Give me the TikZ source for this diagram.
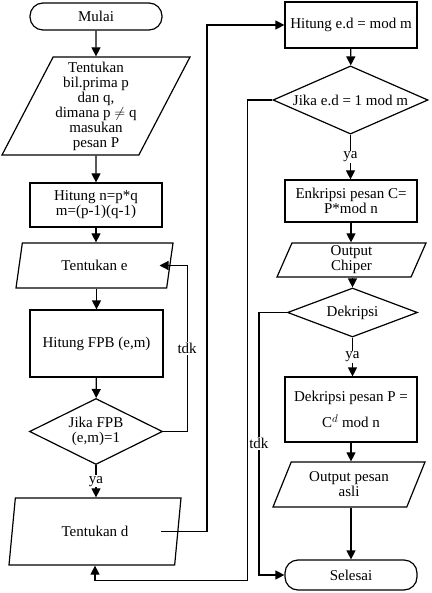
\documentclass[tikz,border=0pt]{standalone}
\usepackage{fontspec}
\setmainfont{Liberation Serif}
\usetikzlibrary{shapes.geometric,arrows.meta,calc}

\begin{document}
\begin{tikzpicture}[x=1pt,y=-1pt,
    every node/.style={font=\fontsize{15}{15}\selectfont, align=center},
    arr/.style={line width=1.2pt, -{Triangle[length=9pt,width=9pt]}},
    terminal/.style={draw, line width=1.2pt, rounded corners=13pt,
        minimum width=132pt, inner sep=0pt},
    proses/.style={draw, line width=1.2pt, rectangle,
        minimum width=132pt, inner sep=0pt},
    io/.style={draw, line width=1.2pt, trapezium, trapezium left angle=60,
        trapezium right angle=120, trapezium stretches body, inner sep=0pt},
    keputusan/.style={draw, line width=1.2pt, diamond, aspect=2, inner sep=0pt},
    lbl/.style={fill=white, inner sep=1pt}]
    \useasboundingbox (0,0) rectangle (431,593);

    \node[terminal, minimum height=27pt] (mulai) at (96,16.5) {Mulai};
    \node[io, minimum width=188pt, minimum height=98pt] (input) at (96,106)
        {Tentukan\\bil.prima p\\dan q,\\dimana p $\neq$ q\\masukan\\pesan P};
    \node[proses, minimum height=44pt] (hitn) at (96,205)
        {Hitung n=p*q\\m=(p-1)(q-1)};
    \node[io, minimum width=157pt, minimum height=45pt,
        trapezium left angle=59, trapezium right angle=121] (tene)
        at (94.5,265.5) {Tentukan e};
    \node[proses, minimum width=133pt, minimum height=67pt] (fpb)
        at (96.5,343.5) {Hitung FPB (e,m)};
    \node[keputusan, minimum width=133pt, minimum height=66pt] (cekfpb)
        at (96,431.5) {Jika FPB\\(e,m)=1};
    \node[io, minimum width=172pt, minimum height=67pt,
        trapezium left angle=59, trapezium right angle=121] (tend)
        at (95,531.5) {Tentukan d};

    \node[proses, minimum height=46pt] (hited) at (351,25) {Hitung e.d = mod m};
    \node[keputusan, minimum width=155pt, minimum height=66pt] (ceked)
        at (350.5,100) {Jika e.d = 1 mod m};
    \node[proses, minimum height=42pt] (enk) at (351,201)
        {Enkripsi pesan C=\\P*mod n};
    \node[io, minimum width=149pt, minimum height=34pt,
        trapezium left angle=62, trapezium right angle=118] (outc)
        at (351.5,260) {Output\\Chiper};
    \node[keputusan, minimum width=130pt, minimum height=49pt] (dek)
        at (352.5,312.5) {Dekripsi};
    \node[proses, minimum height=65pt] (dekp) at (351,409.5)
        {Dekripsi pesan P =\\[9pt]C$^{d}$ mod n};
    \node[io, minimum width=152pt, minimum height=45pt,
        trapezium left angle=54, trapezium right angle=126] (outp)
        at (349,484.5) {Output pesan\\asli};
    \node[terminal, minimum height=30pt] (selesai) at (351,575) {Selesai};

    \coordinate (tene-r) at ($(tene.center)+(65,0)$);
    \coordinate (tend-r) at ($(tend.center)+(66,0)$);

    \draw[arr] (mulai) -- (input);
    \draw[arr] (input) -- (hitn);
    \draw[arr] (hitn.south) -- (hitn.south |- tene.north);
    \draw[arr] (fpb.north |- tene.south) -- (fpb.north);
    \draw[arr] (fpb) -- (cekfpb);
    \draw[arr] (cekfpb.south) -- node[lbl] {ya} (cekfpb.south |- tend.north);
    \draw[arr] (cekfpb.east) -- ++(24,0) |- node[lbl, pos=0.25] {tdk} (tene-r);
    \draw[arr] (tend-r) -- ++(46,0) |- (hited.west);

    \draw[arr] (hited) -- (ceked);
    \draw[arr] (ceked.west) -- ++(-25,0) |- ($(tend.south)+(0,15)$) -- (tend.south);
    \draw[arr] (ceked.south) -- node[lbl] {ya} (ceked.south |- enk.north);
    \draw[arr] (enk.south) -- (enk.south |- outc.north);
    \draw[arr] (outc.south -| dek.north) -- (dek.north);
    \draw[arr] (dek.south) -- node[lbl] {ya} (dek.south |- dekp.north);
    \draw[arr] (dek.west) -- ++(-28,0) |- node[lbl, pos=0.25] {tdk} (selesai.west);
    \draw[arr] (dekp.south) -- (dekp.south |- outp.north);
    \draw[arr] (selesai.north |- outp.south) -- (selesai.north);
\end{tikzpicture}
\end{document}
